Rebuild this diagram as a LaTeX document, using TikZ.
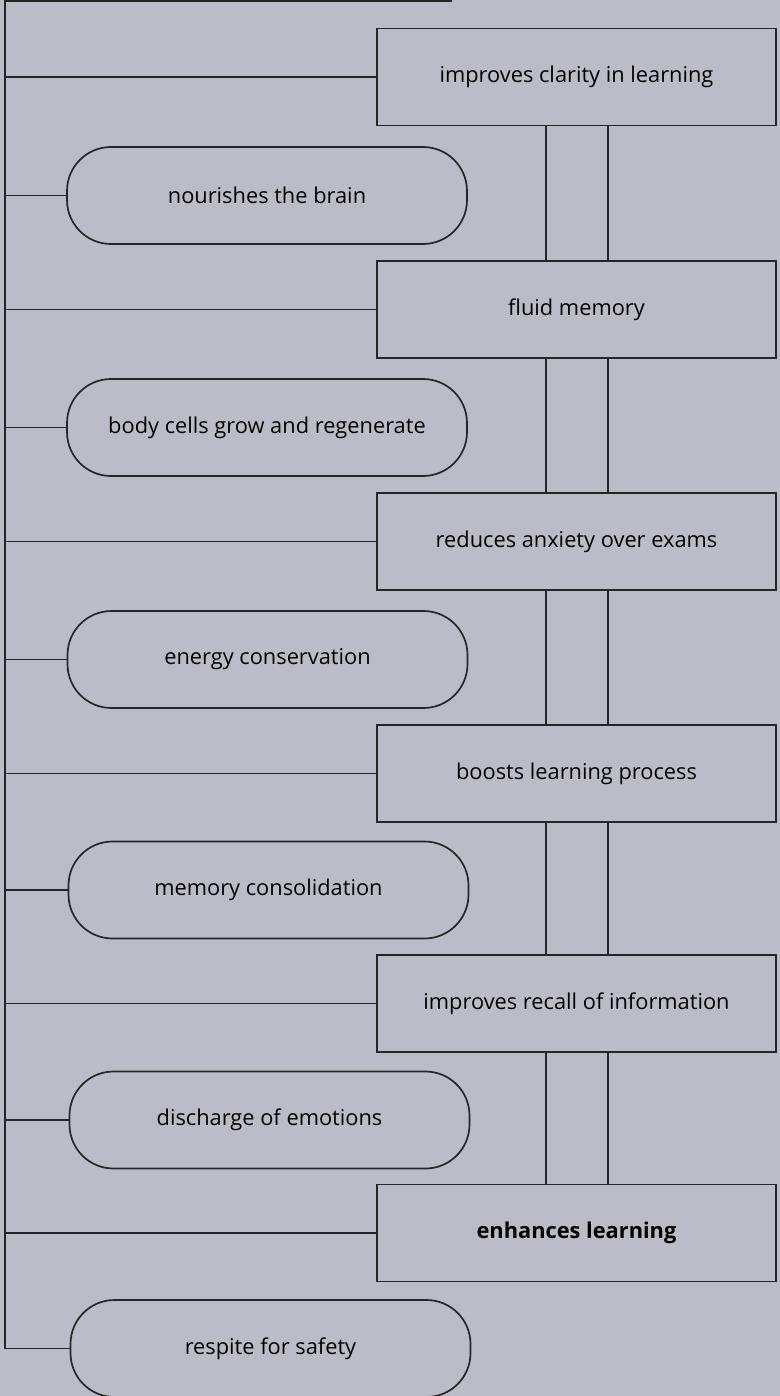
\documentclass[tikz,border=0pt]{standalone}
\usepackage{fontspec}
\setmainfont{Open Sans}
\usepackage{tikz}

\tikzset{
  box/.style={draw=black!85, line width=0.85pt, minimum width=199.5pt, minimum height=48.5pt, inner sep=0pt, font=\fontsize{10.9pt}{12pt}\selectfont},
  pill/.style={box, rounded corners=22pt, minimum width=200pt},
  link/.style={draw=black!85, line width=0.85pt}
}

\begin{document}
\begin{tikzpicture}[x=0.5pt, y=-0.5pt]
\fill[fill={rgb,255:red,188;green,188;blue,201}] (0,0) rectangle (780,1396);
\useasboundingbox (0,0) rectangle (780,1396);
% right column
\node[box] (r1) at (576.5,77) {improves clarity in learning};
\node[box] (r2) at (576.5,309.5) {fluid memory};
\node[box] (r3) at (576.5,541.5) {reduces anxiety over exams};
\node[box] (r4) at (576.5,773.5) {boosts learning process};
\node[box] (r5) at (576.5,1003.5) {improves recall of information};
\node[box] (r6) at (576.5,1233) {\bfseries enhances learning};
% left column
\node[pill] (c1) at (267,195.5) {nourishes the brain};
\node[pill] (c2) at (267,427.5) {body cells grow and regenerate};
\node[pill] (c3) at (267.5,659.5) {energy conservation};
\node[pill] (c4) at (268.5,890) {memory consolidation};
\node[pill] (c5) at (269.5,1120) {discharge of emotions};
\node[pill] (c6) at (270.5,1348.5) {respite for safety};
% spine
\coordinate (top) at (452,1);
\coordinate (corner) at (5,1);
\coordinate (foot) at (5,1348.5);
\draw[link] (top) -- (corner) -- (foot) -- (c6.west);
\draw[link] (corner |- r1) -- (r1.west);
\draw[link] (corner |- c1) -- (c1.west);
\draw[link] (corner |- r2) -- (r2.west);
\draw[link] (corner |- c2) -- (c2.west);
\draw[link] (corner |- r3) -- (r3.west);
\draw[link] (corner |- c3) -- (c3.west);
\draw[link] (corner |- r4) -- (r4.west);
\draw[link] (corner |- c4) -- (c4.west);
\draw[link] (corner |- r5) -- (r5.west);
\draw[link] (corner |- c5) -- (c5.west);
\draw[link] (corner |- r6) -- (r6.west);
% double bars between boxes
\draw[link] (546,0 |- r1.south) -- (546,0 |- r2.north);
\draw[link] (608,0 |- r1.south) -- (608,0 |- r2.north);
\draw[link] (546,0 |- r2.south) -- (546,0 |- r3.north);
\draw[link] (608,0 |- r2.south) -- (608,0 |- r3.north);
\draw[link] (546,0 |- r3.south) -- (546,0 |- r4.north);
\draw[link] (608,0 |- r3.south) -- (608,0 |- r4.north);
\draw[link] (546,0 |- r4.south) -- (546,0 |- r5.north);
\draw[link] (608,0 |- r4.south) -- (608,0 |- r5.north);
\draw[link] (546,0 |- r5.south) -- (546,0 |- r6.north);
\draw[link] (608,0 |- r5.south) -- (608,0 |- r6.north);
\end{tikzpicture}
\end{document}
